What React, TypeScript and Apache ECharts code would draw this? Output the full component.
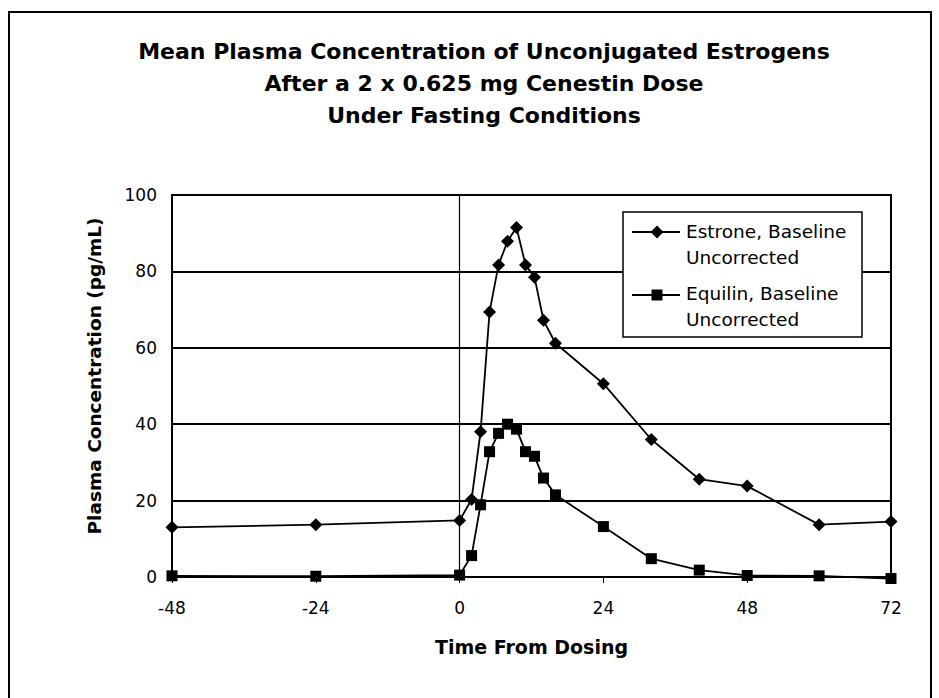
import React, { useEffect, useRef } from "react";
import * as echarts from "echarts";

const hours = [-48, -24, 0, 2, 3.5, 5, 6.5, 8, 9.5, 11, 12.5, 14, 16, 24, 32, 40, 48, 60, 72];
const estrone = [13.0, 13.7, 14.8, 20.3, 38.0, 69.4, 81.7, 87.9, 91.5, 81.7, 78.5, 67.2, 61.2, 50.6, 36.0, 25.6, 23.8, 13.7, 14.5];
const equilin = [0.3, 0.2, 0.5, 5.6, 18.9, 32.8, 37.6, 40.0, 38.7, 32.8, 31.6, 25.9, 21.5, 13.2, 4.8, 1.8, 0.4, 0.3, -0.4];

const titleLines = [
  "Mean Plasma Concentration of Unconjugated Estrogens",
  "After a 2 x 0.625 mg Cenestin Dose",
  "Under Fasting Conditions",
];
const seriesNames = ["Estrone, Baseline Uncorrected", "Equilin, Baseline Uncorrected"];
const legendLabels = ["Estrone, Baseline\nUncorrected", "Equilin, Baseline\nUncorrected"];
const xAxisTitle = "Time From Dosing";
const yAxisTitle = "Plasma Concentration (pg/mL)";

const FONT = '"DejaVu Sans", "Liberation Sans", sans-serif';

export default function App() {
  const ref = useRef<HTMLDivElement>(null);

  useEffect(() => {
    if (!ref.current) return;
    const chart = echarts.init(ref.current, null, { renderer: "svg" });

    const toPairs = (vals: number[]) => hours.map((h, i) => [h, vals[i]]);

    const titleGraphics = titleLines.map((t, i) => ({
      type: "text",
      z: 100,
      style: {
        text: t,
        x: 484,
        y: 51 + i * 32,
        align: "center",
        verticalAlign: "middle",
        fontFamily: FONT,
        fontWeight: "bold",
        fontSize: 22,
        fill: "#000",
      },
    }));

    const legendGraphics: any[] = [
      {
        type: "rect",
        z: 100,
        shape: { x: 623, y: 212, width: 239, height: 125 },
        style: { fill: "#fff", stroke: "#000", lineWidth: 1.5 },
      },
      {
        type: "line",
        z: 101,
        shape: { x1: 632, y1: 232, x2: 680, y2: 232 },
        style: { stroke: "#000", lineWidth: 1.8 },
      },
      {
        type: "polygon",
        z: 102,
        shape: { points: [[657, 225.5], [663.5, 232], [657, 238.5], [650.5, 232]] },
        style: { fill: "#000" },
      },
      {
        type: "text",
        z: 102,
        style: {
          text: legendLabels[0],
          x: 686,
          y: 218,
          verticalAlign: "top",
          lineHeight: 26,
          fontFamily: FONT,
          fontSize: 18.5,
          fill: "#000",
        },
      },
      {
        type: "line",
        z: 101,
        shape: { x1: 632, y1: 295, x2: 680, y2: 295 },
        style: { stroke: "#000", lineWidth: 1.8 },
      },
      {
        type: "rect",
        z: 102,
        shape: { x: 651.5, y: 289.5, width: 11, height: 11 },
        style: { fill: "#000" },
      },
      {
        type: "text",
        z: 102,
        style: {
          text: legendLabels[1],
          x: 686,
          y: 280,
          verticalAlign: "top",
          lineHeight: 26,
          fontFamily: FONT,
          fontSize: 18.5,
          fill: "#000",
        },
      },
    ];

    const frame = {
      type: "rect",
      z: 100,
      shape: { x: 9, y: 12, width: 922, height: 720 },
      style: { fill: "none", stroke: "#000", lineWidth: 2 },
    };

    chart.setOption({
      animation: false,
      backgroundColor: "#ffffff",
      textStyle: { fontFamily: FONT, color: "#000" },
      graphic: [frame, ...titleGraphics, ...legendGraphics],
      grid: {
        left: 172,
        right: 48,
        top: 195,
        bottom: 121,
        show: true,
        borderColor: "#000",
        borderWidth: 2,
        backgroundColor: "transparent",
      },
      xAxis: {
        type: "value",
        min: -48,
        max: 72,
        interval: 24,
        name: xAxisTitle,
        nameLocation: "middle",
        nameGap: 60,
        nameTextStyle: { fontFamily: FONT, fontWeight: "bold", fontSize: 19, color: "#000" },
        axisLine: { show: true, onZero: false, lineStyle: { color: "#000", width: 2 } },
        axisTick: { show: true, length: 6, lineStyle: { color: "#000", width: 1 } },
        axisLabel: { margin: 22, fontFamily: FONT, fontSize: 17, color: "#000" },
        splitLine: { show: false },
      },
      yAxis: {
        type: "value",
        min: 0,
        max: 100,
        interval: 20,
        name: yAxisTitle,
        nameLocation: "middle",
        nameGap: 68,
        nameTextStyle: {
          fontFamily: FONT,
          fontWeight: "bold",
          fontSize: 18.5,
          color: "#000",
          padding: [0, 0, 0, 20],
        },
        axisLine: { show: false, onZero: false },
        axisTick: { show: false },
        axisLabel: { margin: 15, fontFamily: FONT, fontSize: 17, color: "#000" },
        splitLine: { show: true, lineStyle: { color: "#000", width: 2 } },
      },
      series: [
        {
          name: seriesNames[0],
          type: "line",
          data: toPairs(estrone),
          symbol: "diamond",
          symbolSize: 13,
          clip: false,
          itemStyle: { color: "#000" },
          lineStyle: { color: "#000", width: 1.8 },
          markLine: {
            silent: true,
            symbol: "none",
            label: { show: false },
            lineStyle: { color: "#000", width: 1.2, type: "solid" },
            data: [{ xAxis: 0 }],
          },
        },
        {
          name: seriesNames[1],
          type: "line",
          data: toPairs(equilin),
          symbol: "rect",
          symbolSize: 11,
          clip: false,
          itemStyle: { color: "#000" },
          lineStyle: { color: "#000", width: 1.8 },
        },
      ],
    });

    return () => chart.dispose();
  }, []);

  return (
    <div
      ref={ref}
      style={{ position: "fixed", left: 0, top: 0, width: 939, height: 698 }}
    />
  );
}
